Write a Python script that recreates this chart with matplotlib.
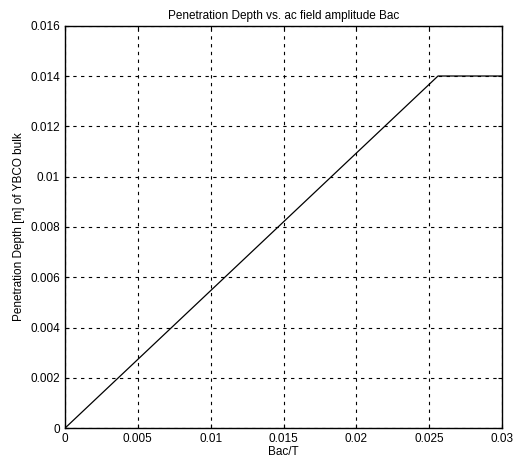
import matplotlib
matplotlib.use("Agg")
import matplotlib.pyplot as plt

# Penetration depth vs. ac field amplitude (capped at bulk radius)
bac = [0.0, 0.0256, 0.03]
depth = [0.0, 0.014, 0.014]

x_ticks = [0, 0.005, 0.01, 0.015, 0.02, 0.025, 0.03]
x_labels = ["0", "0.005", "0.01", "0.015", "0.02", "0.025", "0.03"]
y_ticks = [0, 0.002, 0.004, 0.006, 0.008, 0.01, 0.012, 0.014, 0.016]
y_labels = ["0", "0.002", "0.004", "0.006", "0.008", "0.01", "0.012", "0.014", "0.016"]

plt.rcParams["font.family"] = ["Liberation Sans Narrow", "Liberation Sans", "DejaVu Sans"]

fig = plt.figure(figsize=(5.15, 4.67), dpi=100)
ax = fig.add_axes([0.126, 0.083, 0.849, 0.862])

ax.plot(bac, depth, color="black", linewidth=0.9)

ax.set_xlim(0, 0.03)
ax.set_ylim(0, 0.016)
ax.set_xticks(x_ticks)
ax.set_xticklabels(x_labels)
ax.set_yticks(y_ticks)
ax.set_yticklabels(y_labels)
ax.tick_params(direction="in", length=3, labelsize=8.5, top=True, right=True,
               color="black", width=0.8)

ax.grid(True, color="black", linestyle=(0, (3, 4)), linewidth=0.8)
for s in ax.spines.values():
    s.set_linewidth(1.0)

ax.set_title("Penetration Depth vs. ac field amplitude Bac", fontsize=8.5, pad=5)
ax.set_xlabel("Bac/T", fontsize=8.5, labelpad=1)
ax.set_ylabel("Penetration Depth [m] of YBCO bulk", fontsize=8.5, labelpad=4)

fig.savefig("out.png", dpi=100)
